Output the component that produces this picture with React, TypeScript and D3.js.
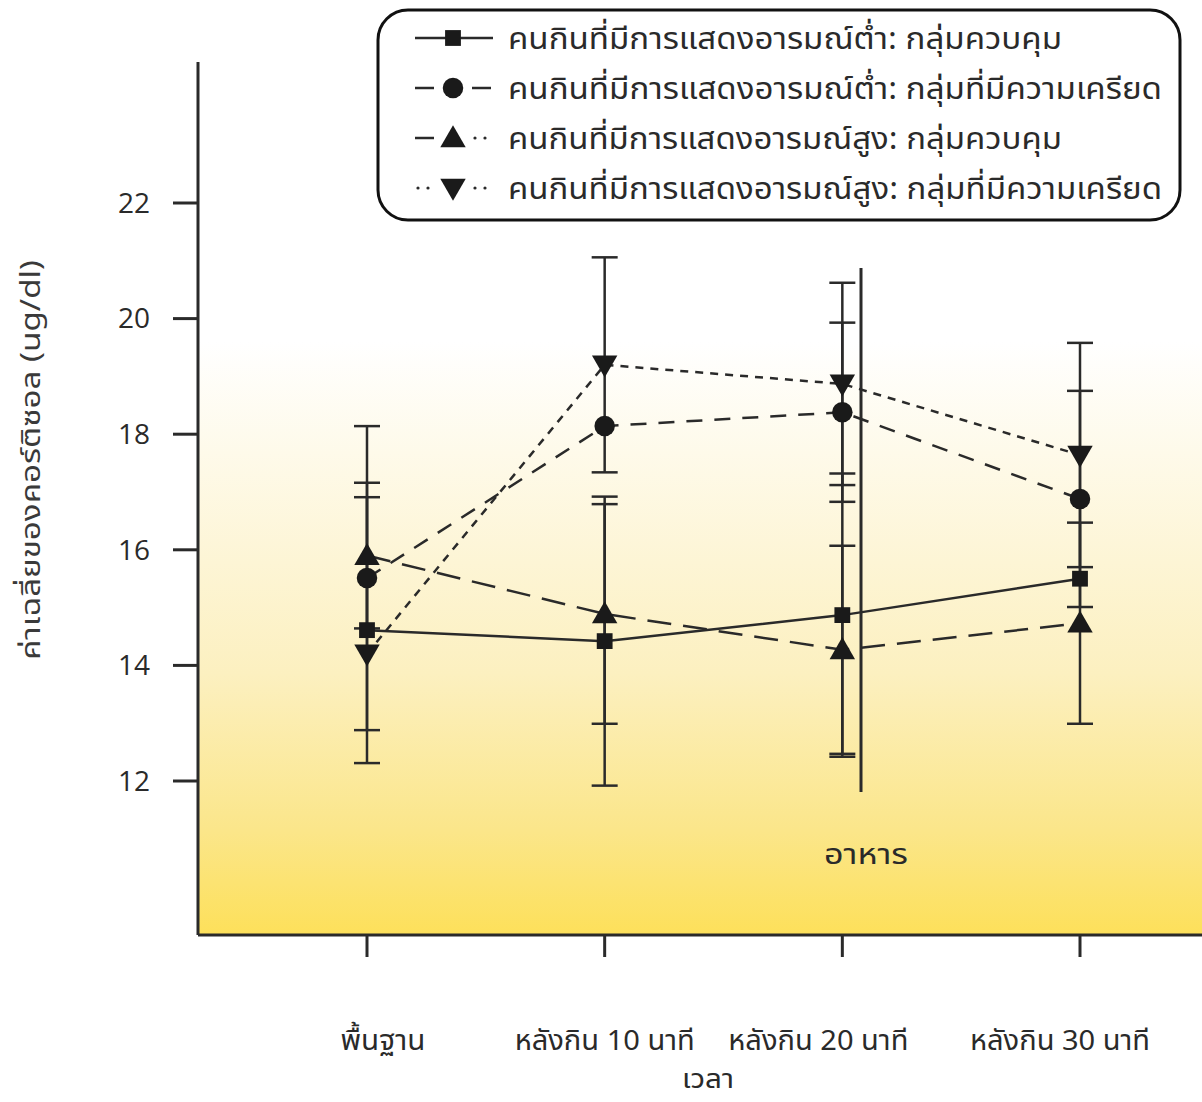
import React from 'react'
import * as d3 from 'd3'

// time points on the x axis
const categories = ['พื้นฐาน', 'หลังกิน 10 นาที', 'หลังกิน 20 นาที', 'หลังกิน 30 นาที']
const yTicks = [12, 14, 16, 18, 20, 22]

// mean cortisol per group, and the error bar half-heights (0 = bar hidden behind marker)
const lowControl = [14.61, 14.42, 14.87, 15.5]
const lowControlErr = [2.3, 2.5, 2.45, 0]
const lowStress = [15.51, 18.14, 18.38, 16.88]
const lowStressErr = [2.63, 0, 1.55, 1.87]
const highControl = [15.9, 14.89, 14.27, 14.73]
const highControlErr = [1.26, 1.9, 1.8, 1.74]
const highStress = [14.2, 19.2, 18.87, 17.64]
const highStressErr = [0, 1.86, 1.75, 1.94]

const seriesLabels = [
  'คนกินที่มีการแสดงอารมณ์ต่ำ: กลุ่มควบคุม',
  'คนกินที่มีการแสดงอารมณ์ต่ำ: กลุ่มที่มีความเครียด',
  'คนกินที่มีการแสดงอารมณ์สูง: กลุ่มควบคุม',
  'คนกินที่มีการแสดงอารมณ์สูง: กลุ่มที่มีความเครียด',
]

const font = '"Noto Sans Thai", "Noto Sans", "DejaVu Sans", sans-serif'
const ink = '#2a2a2a'

const series = [
  { key: 'sq', values: lowControl, err: lowControlErr, dash: null, symbol: d3.symbolSquare, size: 250, rotate: 0 },
  { key: 'ci', values: lowStress, err: lowStressErr, dash: '16,12', symbol: d3.symbolCircle, size: 330, rotate: 0 },
  { key: 'tu', values: highControl, err: highControlErr, dash: '24,12', symbol: d3.symbolTriangle, size: 280, rotate: 0 },
  { key: 'td', values: highStress, err: highStressErr, dash: '8,7', symbol: d3.symbolTriangle, size: 280, rotate: 180 },
]

// legend line styles: [left side, right side]; 'solid' | 'dash' | 'dots'
const legendStyle = [['solid', 'solid'], ['dash', 'dash'], ['dash', 'dots'], ['dots', 'dots']]
const labelShift = [16, 0, -24, -20]

function LegendSide({ x0, x1, y, kind }: { x0: number, x1: number, y: number, kind: string }) {
  if (kind === 'dots') {
    return (
      <g fill={ink}>
        <circle cx={x0 + 3} cy={y} r={1.6} />
        <circle cx={x0 + 13} cy={y} r={1.6} />
      </g>
    )
  }
  return <line x1={x0} x2={x1} y1={y} y2={y} stroke={ink} strokeWidth={2.5} />
}

export default function App() {
  const y = d3.scaleLinear().domain([12, 22]).range([781, 203])
  const x = d3.scalePoint<string>().domain(categories).range([367, 1080])

  const axisX = 198
  const axisY = 935

  const line = d3.line<number>()
    .x((_, i) => x(categories[i]) as number)
    .y(d => y(d))

  const symbolPath = (s: typeof series[number]) => d3.symbol().type(s.symbol).size(s.size)() as string
  const nudge = (s: typeof series[number]) => s.symbol === d3.symbolTriangle ? (s.rotate ? -2 : 2) : 0

  return (
    <svg width={1202} height={1102} style={{ position: 'absolute', left: 0, top: 0, fontFamily: font }}>
      <defs>
        <linearGradient id="bg" x1="0" y1="0" x2="0" y2="1">
          <stop offset="0" stopColor="#ffffff" />
          <stop offset="0.32" stopColor="#ffffff" />
          <stop offset="0.7" stopColor="#fcf0c0" />
          <stop offset="0.88" stopColor="#fbe68a" />
          <stop offset="1" stopColor="#fde05a" />
        </linearGradient>
      </defs>
      <rect x={0} y={0} width={1202} height={1102} fill="#fff" />
      <rect x={axisX} y={62} width={1202 - axisX} height={axisY - 62} fill="url(#bg)" />

      {/* y axis */}
      <line x1={axisX} x2={axisX} y1={62} y2={axisY} stroke={ink} strokeWidth={3} />
      {yTicks.map(t => (
        <g key={t}>
          <line x1={173} x2={axisX} y1={y(t)} y2={y(t)} stroke={ink} strokeWidth={3} />
          <text x={150} y={y(t)} dy="0.35em" textAnchor="end" fontSize={28} fill={ink}
            fontFamily='"Open Sans", sans-serif'>{t}</text>
        </g>
      ))}
      <text transform={`translate(40,${460}) rotate(-90)`} textAnchor="middle" fontSize={27} fill="#3a3a3a"
        textLength={400} lengthAdjust="spacingAndGlyphs">ค่าเฉลี่ยของคอร์ติซอล  (ug/dl)</text>

      {/* x axis */}
      <line x1={axisX} x2={1202} y1={axisY} y2={axisY} stroke={ink} strokeWidth={3} />
      {categories.map((c, i) => (
        <g key={c}>
          <line x1={x(c)} x2={x(c)} y1={axisY} y2={957} stroke={ink} strokeWidth={3} />
          <text x={(x(c) as number) + labelShift[i]} y={1050} textAnchor="middle" fontSize={28} fill={ink}
            textLength={i === 0 ? 85 : 180} lengthAdjust="spacingAndGlyphs">{c}</text>
        </g>
      ))}
      <text x={708} y={1088} textAnchor="middle" fontSize={27} fill={ink} textLength={52} lengthAdjust="spacingAndGlyphs">เวลา</text>

      {/* meal marker */}
      <line x1={861} x2={861} y1={268} y2={792} stroke={ink} strokeWidth={3} />
      <text x={866} y={864} textAnchor="middle" fontSize={28} fill={ink} textLength={84} lengthAdjust="spacingAndGlyphs">อาหาร</text>

      {/* error bars */}
      {series.map(s => s.values.map((v, i) => {
        if (!s.err[i]) return null
        const cx = x(categories[i]) as number
        const top = y(v + s.err[i])
        const bot = y(v - s.err[i])
        return (
          <g key={`${s.key}-e${i}`} stroke={ink} strokeWidth={2.5}>
            <line x1={cx} x2={cx} y1={top} y2={bot} />
            <line x1={cx - 13} x2={cx + 13} y1={top} y2={top} />
            <line x1={cx - 13} x2={cx + 13} y1={bot} y2={bot} />
          </g>
        )
      }))}

      {/* lines */}
      {series.map(s => (
        <path key={`${s.key}-l`} d={line(s.values) as string} fill="none" stroke={ink} strokeWidth={2.5}
          strokeDasharray={s.dash || undefined} />
      ))}

      {/* markers */}
      {series.map(s => s.values.map((v, i) => (
        <path key={`${s.key}-m${i}`} d={symbolPath(s)} fill="#1a1a1a"
          transform={`translate(${x(categories[i])},${y(v) + nudge(s)}) rotate(${s.rotate})`} />
      )))}

      {/* legend */}
      <rect x={378} y={10} width={802} height={210} rx={30} ry={30} fill="#fff" stroke="#111" strokeWidth={3} />
      {series.map((s, i) => {
        const ly = 38 + i * 50
        const [left, right] = legendStyle[i]
        return (
          <g key={`${s.key}-lg`}>
            {left === 'solid'
              ? <line x1={415} x2={493} y1={ly} y2={ly} stroke={ink} strokeWidth={2.5} />
              : <>
                <LegendSide x0={415} x1={434} y={ly} kind={left} />
                <LegendSide x0={472} x1={491} y={ly} kind={right} />
              </>}
            <path d={symbolPath(s)} fill="#1a1a1a"
              transform={`translate(453,${ly + nudge(s)}) rotate(${s.rotate})`} />
            <text x={508} y={ly} dy="0.35em" fontSize={30} fill={ink}
              textLength={i % 2 === 0 ? 554 : 654} lengthAdjust="spacingAndGlyphs">{seriesLabels[i]}</text>
          </g>
        )
      })}
    </svg>
  )
}
